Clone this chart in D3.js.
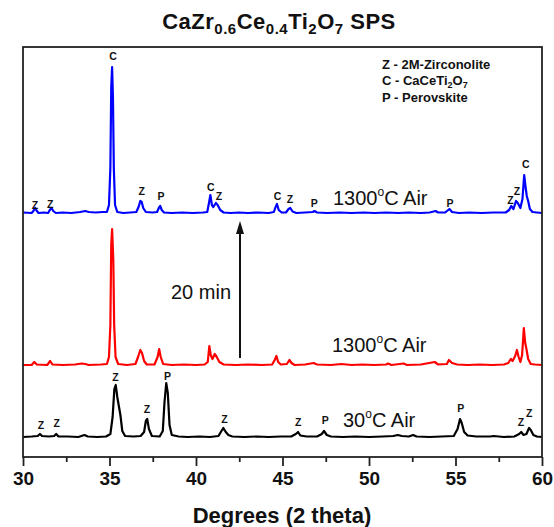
<!DOCTYPE html>
<html>
<head>
<meta charset="utf-8">
<script src="https://cdn.jsdelivr.net/npm/d3@7"></script>
<style>
  body { margin: 0; background: #fff; }
  svg text { font-family: Arial, "Liberation Sans", sans-serif; }
</style>
</head>
<body>
<div id="chart"></div>
<script>
// XRD scans, [2theta, intensity above own baseline]
const scan30Air = [
  [30.0,0],[30.5,0.5],[30.85,1],[30.98,3],[31.1,1],[31.5,0.5],[31.8,1],[31.92,3],[32.05,0.5],[32.6,0.5],
  [33.2,0],[33.55,2],[33.75,0.5],[34.3,0],[34.8,0.5],[35.05,3],[35.18,20],[35.28,48],[35.36,52],[35.45,40],
  [35.55,30],[35.63,22],[35.74,6],[35.9,1],[36.4,0.5],[36.8,1],[37.0,5],[37.1,16],[37.18,18],[37.28,8],
  [37.45,1],[37.9,0.5],[38.08,6],[38.18,35],[38.28,54],[38.37,44],[38.47,12],[38.6,2],[39.0,0.5],[39.5,0],
  [40.2,0.5],[40.8,0],[41.3,1],[41.47,6],[41.58,9],[41.72,5],[41.87,2],[42.1,0.5],[42.8,0],[43.5,0.5],
  [44.2,0],[44.9,0.5],[45.5,0.5],[45.77,3],[45.9,5],[46.03,1.5],[46.4,0.5],[47.0,0.5],[47.27,3],[47.4,6],
  [47.56,2],[47.8,0.5],[48.5,0],[49.2,0.5],[50.0,0],[50.8,0.5],[51.4,1],[51.66,2],[51.9,1],[52.3,0.5],
  [52.55,2],[52.75,0.5],[53.5,0],[54.2,0.5],[54.9,1],[55.12,8],[55.26,18],[55.36,14],[55.5,5],[55.7,1.5],
  [56.2,0.5],[57.0,0.5],[57.2,1],[57.8,0],[58.4,0.5],[58.68,3],[58.8,5],[58.93,2],[59.1,3],[59.25,9],
  [59.35,7],[59.5,2],[59.7,0.5],[60.0,0]
];

const scan1300Air = [
  [30.0,0],[30.5,0],[30.65,3],[30.8,0.5],[31.4,0],[31.57,4],[31.7,0.5],[32.3,0],[33.0,0.5],[33.4,1.5],
  [33.6,1],[33.8,0],[34.5,0.5],[34.85,1],[34.97,8],[35.05,40],[35.1,120],[35.15,136],[35.22,105],[35.27,40],
  [35.35,8],[35.5,1],[36.0,0],[36.5,1],[36.65,8],[36.78,15],[36.88,12],[37.0,4],[37.15,0.5],[37.6,0.5],
  [37.78,8],[37.87,16],[37.96,8],[38.1,1],[38.6,0],[39.3,0.5],[40.0,0],[40.5,0.5],[40.68,3],[40.77,19],
  [40.85,10],[40.95,6],[41.08,11],[41.2,8],[41.35,3],[41.6,0.5],[42.3,0],[43.0,0.5],[43.8,0],[44.4,0.5],
  [44.55,5],[44.65,9],[44.75,3],[44.9,0.5],[45.25,1],[45.4,5],[45.52,2],[45.7,0],[46.3,0.5],[46.8,2],
  [47.0,0.5],[47.8,0],[48.4,1],[49.0,0],[49.6,0.5],[50.3,0],[51.0,0.5],[51.1,1.5],[51.3,0],[52.0,1.5],
  [52.2,0],[53.0,0.5],[53.8,3],[54.0,0.5],[54.5,1],[54.62,5],[54.8,2],[55.1,0.5],[55.7,0],[56.4,0.5],
  [57.1,0],[57.8,0.5],[58.05,2],[58.2,6],[58.3,4],[58.45,9],[58.55,15],[58.65,8],[58.75,3],[58.85,10],
  [58.95,37],[59.03,22],[59.1,16],[59.2,6],[59.35,1],[59.6,0.5],[60.0,0]
];

const scan1300Air20min = [
  [30.0,0.5],[30.5,0],[30.6,2],[30.7,5],[30.8,2],[30.9,0],[31.2,0.5],[31.45,0],[31.55,3],[31.65,5],
  [31.75,2],[31.9,0],[32.3,0.5],[32.8,0],[33.3,1],[33.6,2],[33.8,1],[34.2,0.5],[34.6,1],[34.85,1],
  [34.97,8],[35.05,45],[35.1,125],[35.15,146],[35.2,115],[35.25,45],[35.32,8],[35.45,1],[35.8,0],[36.2,0.5],
  [36.55,1],[36.68,6],[36.78,12],[36.86,11],[36.95,5],[37.1,1],[37.5,0.5],[37.75,1],[37.85,5],[37.93,7],
  [38.02,3],[38.15,0.5],[38.6,0],[39.2,0.5],[39.8,0],[40.4,0.5],[40.65,1],[40.75,10],[40.83,18],[40.92,8],
  [41.0,6],[41.15,10],[41.25,8],[41.4,3],[41.6,0.5],[42.0,0],[42.5,0.5],[43.0,0],[43.6,0.5],[44.2,0],
  [44.5,1],[44.6,6],[44.68,9],[44.78,3],[44.95,0.5],[45.2,0.5],[45.35,4],[45.45,5],[45.58,1.5],[45.8,0],
  [46.3,0.5],[46.75,1],[46.85,2],[47.0,0.5],[47.6,0],[48.3,0.5],[49.0,0],[49.7,0.5],[50.3,0],[51.0,0.5],
  [51.7,0],[52.3,0.5],[53.0,0],[53.5,0.5],[53.85,2],[54.0,0.5],[54.4,0.5],[54.65,4],[54.8,1],[55.2,0],
  [55.8,0.5],[56.5,0],[57.2,0.5],[57.9,0.5],[58.1,3],[58.22,7],[58.35,4],[58.5,12],[58.6,10],[58.75,5],
  [58.87,14],[58.97,38],[59.05,26],[59.12,17],[59.2,12],[59.3,4],[59.45,1],[59.7,0.5],[60.0,0]
];

const scanNames = ["30Air", "1300Air", "1300Air20"];
const scanOffsets = [20, 92, 244];
const scanColors = ["#000000", "#ff0000", "#0000ff"];

// phase marks: [2theta, height, letter]
const marks30Air = [
  [31.04,32,"Z"],[31.95,34,"Z"],[35.34,80,"Z"],[37.17,48,"Z"],[38.36,81,"P"],[41.64,38,"Z"],
  [45.91,35,"Z"],[47.47,37,"P"],[55.3,49,"P"],[58.78,35,"Z"],[59.26,44,"Z"]
];
const marks1300Air20 = [
  [30.69,252,"Z"],[31.58,253,"Z"],[35.2,401,"C"],[36.86,266,"Z"],[37.98,261,"P"],[40.85,270,"C"],
  [41.33,261,"Z"],[44.72,261,"C"],[45.43,258,"Z"],[46.84,254,"P"],[54.68,254,"P"],[58.17,257,"Z"],
  [58.55,266,"Z"],[59.07,293,"C"]
];

const xTicks = [30, 35, 40, 45, 50, 55, 60];
const xMinorTicks = [32.5, 37.5, 42.5, 47.5, 52.5, 57.5];

const width = 554, height = 527;
const plotLeft = 23, plotRight = 542, plotTop = 47, plotBottom = 457;

const svg = d3.select("#chart").append("svg")
    .attr("width", width)
    .attr("height", height);

const x = d3.scaleLinear().domain([30, 60]).range([plotLeft, plotRight]);
const y = d3.scaleLinear().domain([0, plotBottom - plotTop]).range([plotBottom, plotTop]);

// traces
const scans = [scan30Air, scan1300Air, scan1300Air20min];
const line = d3.line()
    .x(d => x(d[0]))
    .y(d => y(d[1]));

scans.forEach((scan, i) => {
    svg.append("path")
        .datum(scan.map(p => [p[0], p[1] + scanOffsets[i]]))
        .attr("class", "scan-" + scanNames[i])
        .attr("fill", "none")
        .attr("stroke", scanColors[i])
        .attr("stroke-width", 2.2)
        .attr("stroke-linejoin", "round")
        .attr("d", line);
});

// phase letters
function drawMarks(marks) {
    svg.append("g").selectAll("text")
        .data(marks)
        .join("text")
        .attr("x", d => x(d[0]))
        .attr("y", d => y(d[1]) + 4)
        .attr("text-anchor", "middle")
        .attr("font-size", "10.5px")
        .attr("font-weight", "bold")
        .attr("fill", "#111")
        .text(d => d[2]);
}
drawMarks(marks30Air);
drawMarks(marks1300Air20);

// frame
svg.append("rect")
    .attr("x", plotLeft)
    .attr("y", plotTop)
    .attr("width", plotRight - plotLeft)
    .attr("height", plotBottom - plotTop)
    .attr("fill", "none")
    .attr("stroke", "#222")
    .attr("stroke-width", 1.8);

// x axis
const xAxis = svg.append("g")
    .attr("transform", `translate(0,${plotBottom})`)
    .call(d3.axisBottom(x).tickValues(xTicks).tickSize(9).tickFormat(d3.format("d")));
xAxis.select(".domain").remove();
xAxis.selectAll("line").attr("stroke", "#222").attr("stroke-width", 1.8);
xAxis.selectAll("text")
    .attr("font-size", "19px")
    .attr("font-weight", "bold")
    .attr("fill", "#111")
    .attr("dy", "0.85em");

const xMinor = svg.append("g")
    .attr("transform", `translate(0,${plotBottom})`)
    .call(d3.axisBottom(x).tickValues(xMinorTicks).tickSize(5).tickFormat(""));
xMinor.select(".domain").remove();
xMinor.selectAll("line").attr("stroke", "#222").attr("stroke-width", 1.8);

// axis title
svg.append("text")
    .attr("x", 282)
    .attr("y", 523)
    .attr("text-anchor", "middle")
    .attr("font-size", "22px")
    .attr("font-weight", "bold")
    .attr("fill", "#111")
    .text("Degrees (2 theta)");

// chart title with subscripts
const title = svg.append("text")
    .attr("x", 279)
    .attr("y", 29)
    .attr("text-anchor", "middle")
    .attr("font-size", "22px")
    .attr("font-weight", "bold")
    .attr("letter-spacing", "0.5px")
    .attr("fill", "#111");
[["CaZr", false], ["0.6", true], ["Ce", false], ["0.4", true], ["Ti", false], ["2", true],
 ["O", false], ["7", true], [" SPS", false]].forEach((part, i, arr) => {
    const prevSub = i > 0 && arr[i - 1][1];
    let dy = 0;
    if (part[1] && !prevSub) dy = 5;
    if (!part[1] && prevSub) dy = -5;
    title.append("tspan")
        .attr("dy", dy)
        .attr("font-size", part[1] ? "15px" : "22px")
        .text(part[0]);
});

// legend (top right)
const legend = svg.append("g")
    .attr("font-size", "13px")
    .attr("font-weight", "bold")
    .attr("fill", "#111");
legend.append("text").attr("x", 382).attr("y", 69).text("Z - 2M-Zirconolite");
const leg2 = legend.append("text").attr("x", 382).attr("y", 85);
leg2.append("tspan").text("C - CaCeTi");
leg2.append("tspan").attr("font-size", "9px").attr("dy", 3).text("2");
leg2.append("tspan").attr("dy", -3).text("O");
leg2.append("tspan").attr("font-size", "9px").attr("dy", 3).text("7");
legend.append("text").attr("x", 382).attr("y", 102).text("P - Perovskite");

// condition labels
function conditionLabel(xPos, yPos, temp) {
    const t = svg.append("text")
        .attr("x", xPos)
        .attr("y", yPos)
        .attr("font-size", "20px")
        .attr("fill", "#111");
    t.append("tspan").text(temp);
    t.append("tspan").attr("font-size", "12px").attr("dy", -9).text("o");
    t.append("tspan").attr("dy", 9).text("C Air");
}
conditionLabel(333, 205, "1300");
conditionLabel(332, 352, "1300");
conditionLabel(343, 427, "30");

svg.append("text")
    .attr("x", 171)
    .attr("y", 299)
    .attr("font-size", "20px")
    .attr("fill", "#111")
    .text("20 min");

// arrow
svg.append("line")
    .attr("x1", 240).attr("y1", 358)
    .attr("x2", 240).attr("y2", 230)
    .attr("stroke", "#111")
    .attr("stroke-width", 2);
svg.append("path")
    .attr("d", "M236,234 L240,221 L244,234 Z")
    .attr("fill", "#111");
</script>
</body>
</html>
